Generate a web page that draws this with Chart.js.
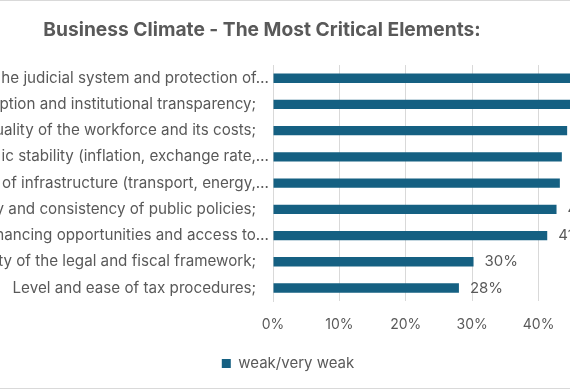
<!DOCTYPE html>
<html>
<head>
<meta charset="utf-8">
<script src="https://cdn.jsdelivr.net/npm/chart.js@4/dist/chart.umd.min.js"></script>
<style>
  html, body { margin: 0; padding: 0; background: #fff; }
  #wrap { position: relative; width: 570px; height: 390px; overflow: hidden; background: #fff; }
  #wrap::before, #wrap::after { content: ""; position: absolute; left: 0; right: 0; height: 1px; background: #d9d9d9; z-index: 2; }
  #wrap::before { top: 0; }
  #wrap::after { bottom: 1px; }
  canvas { position: absolute; left: 0; top: 0; }
</style>
</head>
<body>
<div id="wrap"><canvas id="c" width="660" height="390"></canvas></div>
<script>
const titleText = "Business Climate - The Most Critical Elements:";
const categories = [
  "he judicial system and protection of…",
  "ption and institutional transparency;",
  "uality of the workforce and its costs;",
  "ic stability (inflation, exchange rate,…",
  "of infrastructure (transport, energy,…",
  "y and consistency of public policies;",
  "nancing opportunities and access to…",
  "ty of the legal and fiscal framework;",
  "Level and ease of tax procedures;"
];
const seriesName = "weak/very weak";
const values = [46.5, 45.5, 44.3, 43.5, 43.2, 42.7, 41.3, 30.2, 28.0];
const xTicks = [0, 10, 20, 30, 40, 50];

const FONT = "Inter, 'Open Sans', sans-serif";
const GREY = "#595959";
const BAR = "#156082";

const dataLabels = {
  id: "dataLabels",
  afterDatasetsDraw(chart) {
    const ctx = chart.ctx;
    const meta = chart.getDatasetMeta(0);
    ctx.save();
    ctx.font = "15px " + FONT;
    ctx.fillStyle = GREY;
    ctx.textAlign = "left";
    ctx.textBaseline = "middle";
    meta.data.forEach((bar, i) => {
      ctx.fillText(Math.round(values[i]) + "%", bar.x + 11, bar.y);
    });
    ctx.restore();
  }
};

const shiftBoxes = {
  id: "shiftBoxes",
  afterLayout(chart) {
    const t = chart.titleBlock;
    if (t) { t.left = 262 - 300; t.right = 262 + 300; }
    const l = chart.legend;
    if (l) { l.left = 0; l.right = 576; l.top -= 4; l.bottom -= 4; }
  }
};

new Chart(document.getElementById("c"), {
  type: "bar",
  data: {
    labels: categories,
    datasets: [{
      label: seriesName,
      data: values,
      backgroundColor: BAR,
      borderColor: BAR,
      borderWidth: 0,
      categoryPercentage: 0.5,
      barPercentage: 0.72,
      clip: false
    }]
  },
  options: {
    indexAxis: "y",
    responsive: false,
    animation: false,
    devicePixelRatio: 1,
    layout: { padding: { left: 0, right: 55, top: 0, bottom: 5 } },
    scales: {
      x: {
        min: 0, max: 50,
        afterBuildTicks(scale) { scale.ticks = xTicks.map(v => ({ value: v })); },
        grid: { color: "#d9d9d9", drawTicks: false, lineWidth: 1 },
        border: { display: false },
        ticks: {
          color: GREY, font: { family: FONT, size: 14 }, padding: 15,
          callback: v => v + "%"
        }
      },
      y: {
        afterFit(scale) { scale.width = 273; },
        grid: { display: false, drawTicks: false },
        border: { display: true, color: "#d9d9d9" },
        ticks: {
          color: GREY, font: { family: FONT, size: 15.2 }, padding: 4,
          autoSkip: false,
          callback: (v, i) => categories[i].endsWith("…") ? categories[i] : categories[i] + "   "
        }
      }
    },
    plugins: {
      title: {
        display: true, text: titleText, color: GREY,
        font: { family: FONT, size: 19.2, weight: "bold" },
        padding: { top: 19, bottom: 23 }
      },
      legend: {
        position: "bottom",
        labels: {
          color: GREY, font: { family: FONT, size: 15 },
          boxWidth: 9, boxHeight: 9, padding: 12
        }
      },
      tooltip: { enabled: false }
    }
  },
  plugins: [dataLabels, shiftBoxes]
});
</script>
</body>
</html>
